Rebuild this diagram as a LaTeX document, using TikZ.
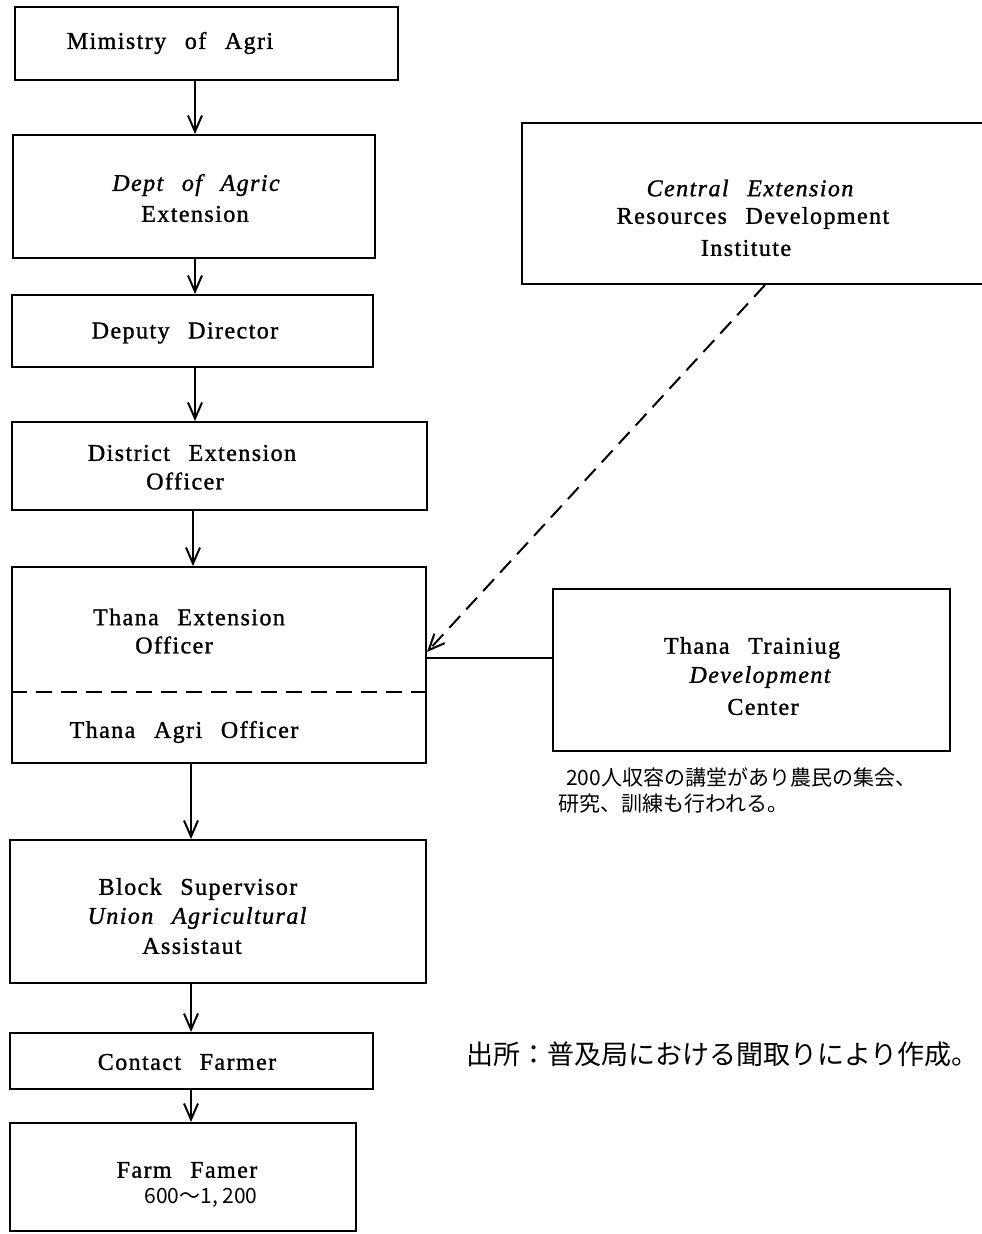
\documentclass[tikz,border=0pt]{standalone}
\usepackage{fontspec}
\setmainfont{Liberation Serif}
\newfontfamily\cjk{Noto Sans CJK JP}
\newfontfamily\spc[LetterSpace=6,WordSpace=2.5,FakeBold=1.2]{Liberation Serif}
\usetikzlibrary{arrows.meta,calc}
\begin{document}
\begin{tikzpicture}[x=1pt,y=-1pt,
  box/.style={draw, line width=2pt, inner sep=0pt},
  lbl/.style={font=\fontsize{24}{28}\selectfont\spc, inner sep=0pt},
  jp/.style={font=\fontsize{21}{26}\selectfont\cjk, inner sep=0pt, anchor=west},
  arr/.style={line width=2pt, -{Straight Barb[length=16pt,width=14pt,line width=2pt]}},
  dashline/.style={line width=2pt, dash pattern=on 16pt off 9pt}
]
\useasboundingbox (0,0) rectangle (982,1234);
\fill[white] (0,0) rectangle (982,1234);

% boxes
\node[box, minimum width=383, minimum height=73]  (mof)   at (206.5,43.5) {};
\node[box, minimum width=362, minimum height=123] (dae)   at (194,196.5) {};
\node[box, minimum width=361, minimum height=72]  (dd)    at (192.5,331) {};
\node[box, minimum width=415, minimum height=88]  (deo)   at (219.5,466) {};
\node[box, minimum width=414, minimum height=196] (teo)   at (219,665) {};
\node[box, minimum width=416, minimum height=143] (bs)    at (218,911.5) {};
\node[box, minimum width=363, minimum height=56]  (cf)    at (191.5,1061) {};
\node[box, minimum width=346, minimum height=108] (ff)    at (183,1177) {};
\node[box, minimum width=478, minimum height=161] (cerdi) at (761,203.5) {};
\node[box, minimum width=397, minimum height=162] (ttdc)  at (751.5,670) {};

% dashed divider in Thana box
\coordinate (dv) at (0,692);
\draw[dashline] (teo.west |- dv) -- (teo.east |- dv);

% texts
\node[lbl] (t1)  at (170,43)  {Mimistry of Agri};
\node[lbl] (t2a) at (196,185) {\itshape Dept of Agric};
\node[lbl] (t2b) at (195,214) {Extension};
\node[lbl] (t3)  at (185,333) {Deputy Director};
\node[lbl] (t4a) at (192,453) {District Extension};
\node[lbl] (t4b) at (185,481) {Officer};
\node[lbl] (t5a) at (189,617) {Thana Extension};
\node[lbl] (t5b) at (174,645) {Officer};
\node[lbl] (t5c) at (184,732) {Thana Agri Officer};
\node[lbl] (t6a) at (198,889) {Block Supervisor};
\node[lbl] (t6b) at (197,918) {\itshape Union Agricultural};
\node[lbl] (t6c) at (192,946) {Assistaut};
\node[lbl] (t7)  at (187,1062) {Contact Farmer};
\node[lbl] (t8a) at (187,1170) {Farm Famer};
\node[font=\fontsize{21}{26}\selectfont\cjk, inner sep=0pt] (t8b) at (201,1198) {600〜1, 200};
\node[lbl] (t9a) at (750,188) {\itshape Central Extension};
\node[lbl] (t9b) at (753,218) {Resources Development};
\node[lbl] (t9c) at (746,248) {Institute};
\node[lbl] (t10a) at (752,648) {Thana Trainiug};
\node[lbl] (t10b) at (760,677) {\itshape Development};
\node[lbl] (t10c) at (763,707) {Center};
\node[jp] (n1) at (566,777) {200人収容の講堂があり農民の集会、};
\node[jp] (n2) at (558,804) {研究、訓練も行われる。};
\node[jp, font=\fontsize{27}{32}\selectfont\cjk] (src) at (466,1054) {出所：普及局における聞取りにより作成。};

% vertical connectors
\coordinate (c195) at (195,0);
\coordinate (c193) at (193,0);
\coordinate (c191) at (191,0);
\draw[arr] (mof.south -| c195) -- (dae.north -| c195);
\draw[arr] (dae.south -| c195) -- (dd.north -| c195);
\draw[arr] (dd.south -| c195) -- (deo.north -| c195);
\draw[arr] (deo.south -| c193) -- (teo.north -| c193);
\draw[arr] (teo.south -| c191) -- (bs.north -| c191);
\draw[arr] (bs.south -| c191) -- (cf.north -| c191);
\draw[arr] (cf.south -| c191) -- (ff.north -| c191);

% dashed connector from institute
\coordinate (dx) at (765,0);
\coordinate (ty) at (0,652);
\draw[dashline, -{Straight Barb[length=16pt,width=14pt,line width=2pt]}] (cerdi.south -| dx) -- (teo.east |- ty);

% training centre link
\coordinate (hy) at (0,658);
\draw[line width=2pt] (ttdc.west |- hy) -- (teo.east |- hy);
\end{tikzpicture}
\end{document}
